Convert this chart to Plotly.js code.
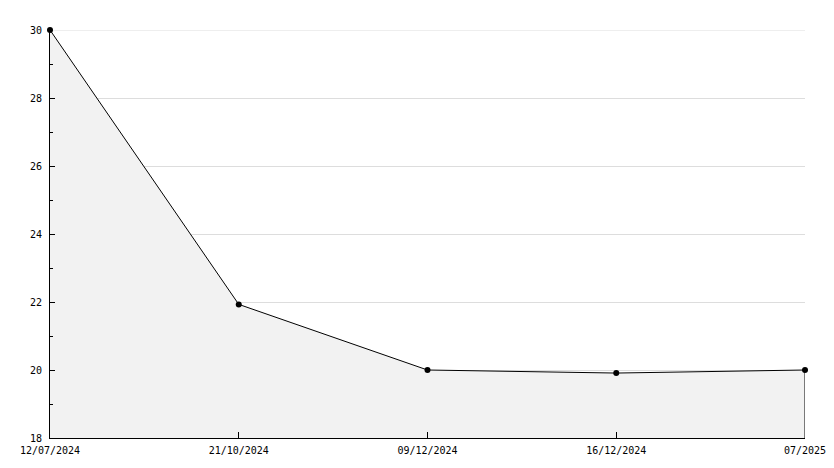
<!DOCTYPE html>
<html>
<head>
<meta charset="utf-8">
<script src="https://cdn.plot.ly/plotly-3.0.1.min.js"></script>
<style>html,body{margin:0;padding:0;background:#fff;}#chart{width:834px;height:468px;}</style>
</head>
<body>
<div id="chart"></div>
<script>
const categories = ["12/07/2024", "21/10/2024", "09/12/2024", "16/12/2024", "07/2025"];
const values = [30, 21.93, 20, 19.91, 20];
const yMin = 18;
const yMax = 30;
const yTicks = [18, 20, 22, 24, 26, 28, 30];

const last = categories.length - 1;

const traces = [
  {
    x: categories,
    y: values,
    type: 'scatter',
    mode: 'lines+markers',
    fill: 'tozeroy',
    fillcolor: '#f2f2f2',
    line: {color: '#000', width: 1},
    marker: {color: '#000', size: 6, symbol: 'circle'},
    cliponaxis: false,
    hoverinfo: 'x+y'
  },
  {
    x: [categories[last], categories[last]],
    y: [yMin, values[last]],
    type: 'scatter',
    mode: 'lines',
    line: {color: '#000', width: 1},
    cliponaxis: false,
    hoverinfo: 'skip',
    showlegend: false
  }
];

const font = {family: 'DejaVu Sans Mono, monospace', size: 10, color: '#000'};

const layout = {
  width: 834,
  height: 468,
  margin: {l: 50, r: 29, t: 30, b: 30, pad: 0},
  paper_bgcolor: '#fff',
  plot_bgcolor: '#fff',
  showlegend: false,
  font: font,
  shapes: [
    {type: 'line', xref: 'paper', yref: 'y', x0: 0, x1: 1, y0: yMax, y1: yMax,
     line: {color: '#dddddd', width: 1}, layer: 'below'}
  ],
  xaxis: {
    type: 'category',
    range: [0, last],
    showgrid: false,
    zeroline: false,
    showline: true,
    linecolor: '#000',
    linewidth: 1,
    ticks: 'inside',
    ticklen: 6,
    tickcolor: '#000',
    tickfont: font,
    ticklabelstandoff: 3,
    fixedrange: true
  },
  yaxis: {
    range: [yMin, yMax],
    tickvals: yTicks,
    ticktext: yTicks.map(String),
    showgrid: true,
    gridcolor: '#dddddd',
    gridwidth: 1,
    zeroline: false,
    showline: true,
    linecolor: '#000',
    linewidth: 1,
    ticks: 'inside',
    ticklen: 5,
    tickcolor: '#000',
    tickfont: font,
    ticklabelstandoff: 5,
    minor: {dtick: 1, ticks: 'inside', ticklen: 3, tickcolor: '#000', showgrid: false},
    fixedrange: true
  }
};

Plotly.newPlot('chart', traces, layout, {displayModeBar: false, staticPlot: true});
</script>
</body>
</html>
